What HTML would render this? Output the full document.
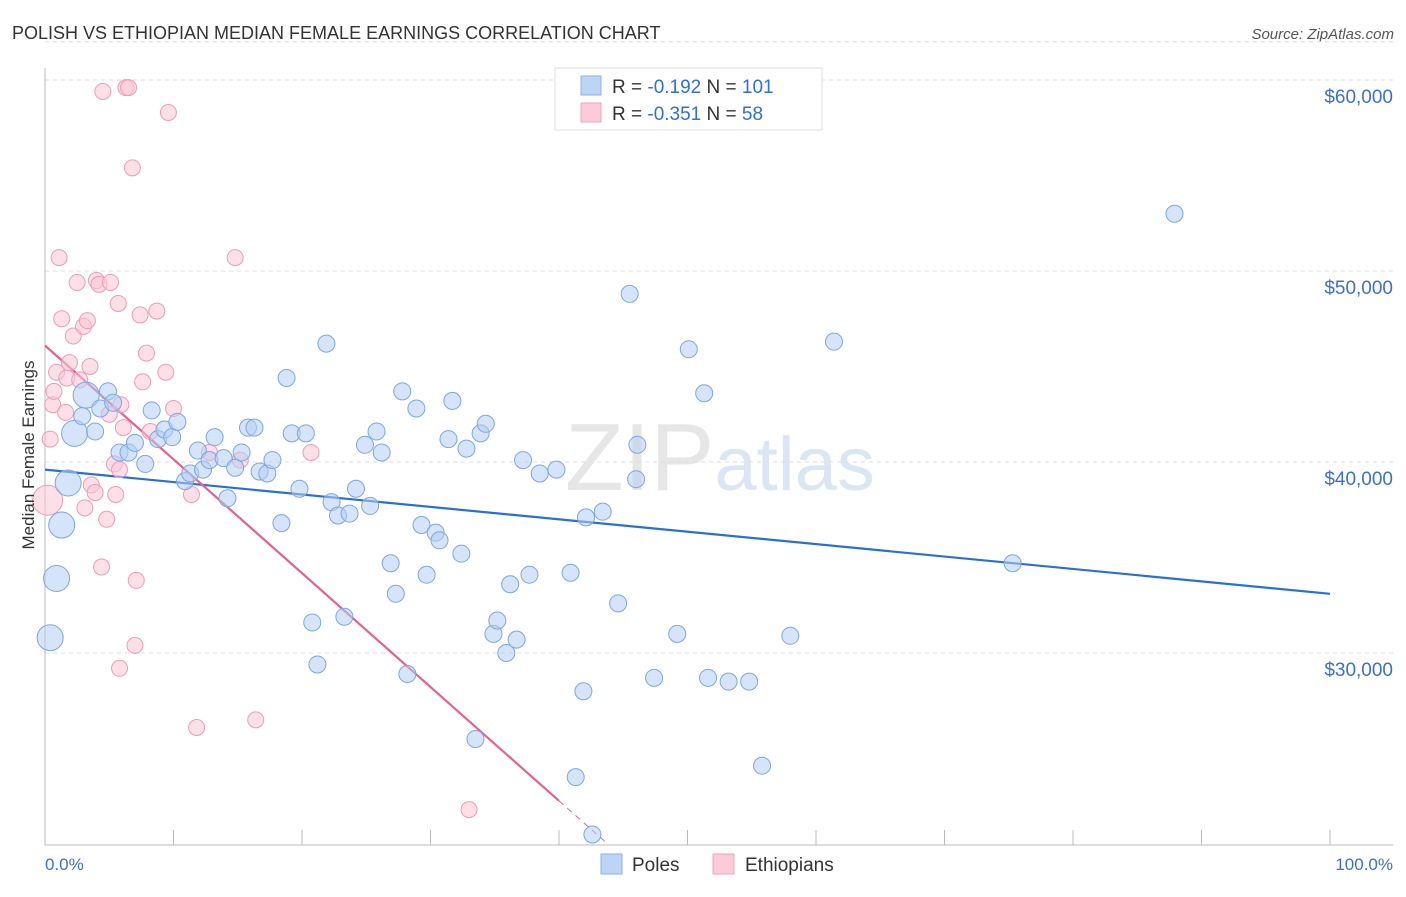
<!DOCTYPE html>
<html><head><meta charset="utf-8"><style>
body{margin:0;background:#fff;font-family:"Liberation Sans",sans-serif}
svg text{font-family:"Liberation Sans",sans-serif}
</style></head><body>
<svg id="chart" width="1406" height="892" viewBox="0 0 1406 892" xmlns="http://www.w3.org/2000/svg">
<text x="12" y="39" font-size="18" fill="#333">POLISH VS ETHIOPIAN MEDIAN FEMALE EARNINGS CORRELATION CHART</text>
<text x="1394" y="39" font-size="15" fill="#555" font-style="italic" text-anchor="end">Source: ZipAtlas.com</text>
<text x="720" y="490" font-size="96" fill="#e6e6e6" text-anchor="middle" font-family="Liberation Serif">ZIP<tspan fill="#dbe6f5" font-family="Liberation Sans" font-size="76">atlas</tspan></text>
<g id="grid"></g>
<g id="axes"></g>
<g id="trend"></g>
<g id="points"></g>
<text transform="translate(34,455) rotate(-90)" font-size="17" fill="#333" text-anchor="middle">Median Female Earnings</text>
<text x="45" y="870" font-size="17" fill="#3b6fd4">0.0%</text>
<text x="1393" y="870" font-size="17" fill="#3b6fd4" text-anchor="end">100.0%</text>
<g>
<rect x="555" y="68" width="267" height="62" fill="#fff" stroke="#ddd"/>
<rect x="581" y="76" width="20" height="19" fill="#bcd4f5" stroke="#8fb2e6"/>
<rect x="581" y="103" width="20" height="19" fill="#fbcbd9" stroke="#eea5bb"/>
<text x="612" y="93" font-size="19" fill="#333">R = <tspan fill="#2f6fd6">-0.192</tspan>   N = <tspan fill="#2f6fd6">101</tspan></text>
<text x="612" y="120" font-size="19" fill="#333">R = <tspan fill="#2f6fd6">-0.351</tspan>   N = <tspan fill="#2f6fd6">  58</tspan></text>
</g>
<g>
<rect x="601" y="854" width="21" height="20" fill="#bcd4f5" stroke="#8fb2e6"/>
<text x="632" y="871" font-size="19" fill="#333">Poles</text>
<rect x="713" y="854" width="21" height="20" fill="#fbcbd9" stroke="#eea5bb"/>
<text x="745" y="871" font-size="19" fill="#333">Ethiopians</text>
</g>
</svg>
<script>
const yTicks=[30000,40000,50000,60000];
const yTickLabels=["$30,000","$40,000","$50,000","$60,000"];
const polesX=[0.9,0.4,1.3,1.8,2.3,2.9,3.2,3.9,4.3,4.9,5.3,5.8,6.5,7.0,7.8,8.3,8.8,9.3,9.9,10.3,10.9,11.3,11.9,12.3,12.8,13.2,13.9,14.2,14.8,15.3,15.8,16.3,16.7,17.3,17.7,18.4,18.8,19.2,19.8,20.3,20.8,21.2,21.9,22.3,22.8,23.3,23.7,24.2,24.9,25.3,25.8,26.2,26.9,27.3,27.8,28.2,28.9,29.3,29.7,30.4,30.7,31.4,31.7,32.4,32.8,33.5,33.9,34.3,34.9,35.2,35.9,36.2,36.7,37.2,37.7,38.5,39.8,40.9,41.3,41.9,42.1,42.6,43.4,44.6,45.5,46.0,46.1,47.4,49.2,50.1,51.3,51.6,53.2,54.8,55.8,58.0,61.4,75.3,87.9,53.9];
const polesY=[33.9,30.8,36.7,38.9,41.5,42.4,43.5,41.6,42.8,43.7,43.1,40.5,40.5,41.0,39.9,42.7,41.2,41.7,41.3,42.1,39.0,39.4,40.6,39.6,40.1,41.3,40.2,38.1,39.7,40.5,41.8,41.8,39.5,39.4,40.1,36.8,44.4,41.5,38.6,41.5,31.6,29.4,46.2,37.9,37.2,31.9,37.3,38.6,40.9,37.7,41.6,40.5,34.7,33.1,43.7,28.9,42.8,36.7,34.1,36.3,35.9,41.2,43.2,35.2,40.7,25.5,41.5,42.0,31.0,31.7,30.0,33.6,30.7,40.1,34.1,39.4,39.6,34.2,23.5,28.0,37.1,20.5,37.4,32.6,48.8,39.1,40.9,28.7,31.0,45.9,43.6,28.7,28.5,28.5,24.1,30.9,46.3,34.7,53.0,59.1];
const polesBig=[0,1,2,3,4,6];
const ethX=[0.2,0.4,0.6,0.7,0.9,1.1,1.3,1.6,1.7,1.9,2.2,2.5,2.7,3.0,3.3,3.1,3.5,3.6,3.9,4.0,4.2,4.4,4.5,4.8,5.0,5.1,5.4,5.5,5.7,5.9,6.1,6.3,6.5,6.8,7.0,7.1,7.4,7.6,7.9,8.2,8.7,9.4,9.6,10.0,11.4,11.8,12.8,14.8,15.2,16.4,20.7,33.0,5.8,5.8];
const ethY=[38.0,41.2,43.0,43.7,44.7,50.7,47.5,42.6,44.4,45.2,46.6,49.4,44.3,47.1,47.4,37.6,45.0,38.8,38.4,49.5,49.3,34.5,59.4,37.0,42.5,49.4,39.9,38.3,48.3,43.0,41.8,59.6,59.6,55.4,30.4,33.8,47.7,44.2,45.7,41.6,47.9,44.7,58.3,42.8,38.3,26.1,40.5,50.7,40.1,26.5,40.5,21.8,29.2,39.6];
const ethBig=[0];
const polesTrend=[39600,33100];   // value at 0% and 100%
const ethTrend=[46100,-13500];    // value at 0% and 100%
const ethSolidEnd=40;             // % where pink solid line ends

const X0=45,X1=1330;
const xs=p=>X0+(X1-X0)*p/100;
const ys=v=>653-(v-30000)*0.0191;
const NS="http://www.w3.org/2000/svg";
function mk(tag,attrs,parent){const e=document.createElementNS(NS,tag);for(const k in attrs)e.setAttribute(k,attrs[k]);parent.appendChild(e);return e;}
const grid=document.getElementById('grid'),axes=document.getElementById('axes'),trend=document.getElementById('trend'),pts=document.getElementById('points');
yTicks.forEach((t,i)=>{
  const l=mk('line',{x1:45,x2:1393,y1:ys(t),y2:ys(t),stroke:'#ddd','stroke-dasharray':'4,4'},grid);
  
  
  const tx=mk('text',{x:1393,y:ys(t)+23,'font-size':19,fill:'#3b6fd4','text-anchor':'end'},axes);
  tx.textContent=yTickLabels[i];
  
  
});
const topL=mk('line',{x1:45,x2:1393,y1:ys(62000),y2:ys(62000),stroke:'#ddd','stroke-dasharray':'4,4'},grid);


const ya=mk('line',{x1:45,x2:45,y1:68,y2:845,stroke:'#bbb'},axes);


const xa=mk('line',{x1:45,x2:1393,y1:845,y2:845,stroke:'#bbb'},axes);


for(let i=0;i<=10;i++){const tk=mk('line',{x1:xs(i*10),x2:xs(i*10),y1:830,y2:845,stroke:'#bbb'},axes);
  
  }
function circ(x,y,r,fill,stroke,name){const c=mk('circle',{cx:xs(x),cy:ys(y*1000),r:r,fill:fill,stroke:stroke,'stroke-width':1,'fill-opacity':0.55},pts);
  
  }
ethX.forEach((x,i)=>circ(x,ethY[i],ethBig.includes(i)?15:8,'#fbc4d5','#ec9db6','ethiopians-point'));
polesX.forEach((x,i)=>circ(x,polesY[i],polesBig.includes(i)?13:8.5,'#b3cdf3','#7ea6e2','poles-point'));
const pt=v=>v; 
const pl=mk('line',{x1:xs(0),y1:ys(polesTrend[0]),x2:xs(100),y2:ys(polesTrend[1]),stroke:'#2a6fd8','stroke-width':2.2},trend);


const ev=p=>ethTrend[0]+(ethTrend[1]-ethTrend[0])*p/100;
const el=mk('line',{x1:xs(0),y1:ys(ev(0)),x2:xs(ethSolidEnd),y2:ys(ev(ethSolidEnd)),stroke:'#e6628d','stroke-width':2.2},trend);


const endP=(ethTrend[0]-20000)/(ethTrend[0]-ethTrend[1])*100;
const ed=mk('line',{x1:xs(ethSolidEnd),y1:ys(ev(ethSolidEnd)),x2:xs(endP),y2:ys(ev(endP)),stroke:'#e6628d','stroke-width':1,'stroke-dasharray':'6,5'},trend);


</script>
</body></html>
